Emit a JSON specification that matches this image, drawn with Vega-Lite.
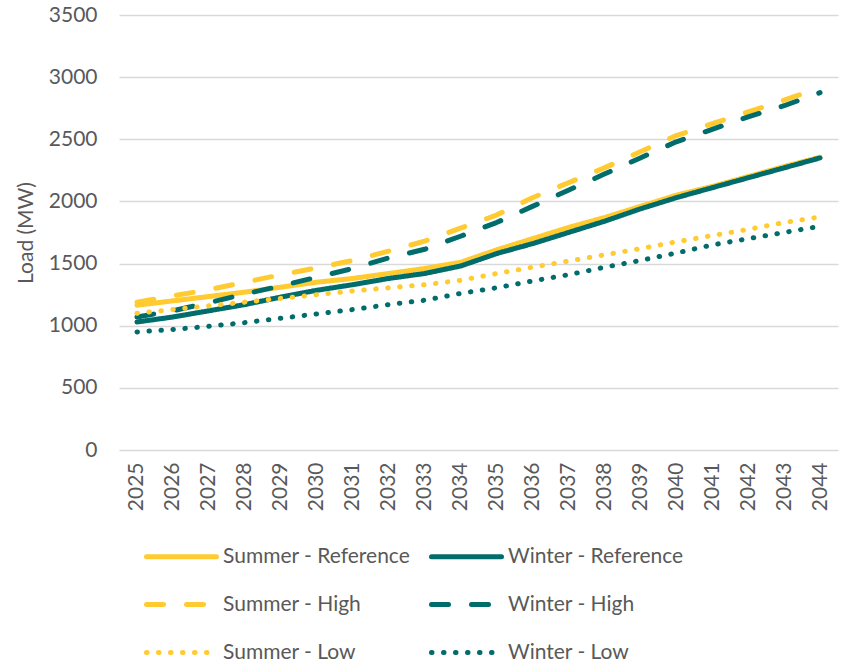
{
  "$schema": "https://vega.github.io/schema/vega-lite/v6.json",
  "width": 719,
  "height": 435,
  "padding": {"left": 119, "top": 15, "right": 4, "bottom": 211},
  "autosize": {"type": "none"},
  "background": "white",
  "config": {
    "view": {"stroke": null},
    "font": "Lato",
    "axis": {"labelFont": "Lato", "titleFont": "Lato", "labelColor": "#595959", "titleColor": "#595959", "labelFontSize": 21, "titleFontSize": 21, "titleFontWeight": "normal"},
    "legend": {"labelFont": "Lato", "labelColor": "#595959", "labelFontSize": 21}
  },
  "data": {
    "values": [
      {"year": "2025", "series": "Summer - Reference", "load": 1165},
      {"year": "2026", "series": "Summer - Reference", "load": 1200},
      {"year": "2027", "series": "Summer - Reference", "load": 1235},
      {"year": "2028", "series": "Summer - Reference", "load": 1270},
      {"year": "2029", "series": "Summer - Reference", "load": 1310},
      {"year": "2030", "series": "Summer - Reference", "load": 1350},
      {"year": "2031", "series": "Summer - Reference", "load": 1380},
      {"year": "2032", "series": "Summer - Reference", "load": 1420},
      {"year": "2033", "series": "Summer - Reference", "load": 1460},
      {"year": "2034", "series": "Summer - Reference", "load": 1510},
      {"year": "2035", "series": "Summer - Reference", "load": 1610},
      {"year": "2036", "series": "Summer - Reference", "load": 1700},
      {"year": "2037", "series": "Summer - Reference", "load": 1790},
      {"year": "2038", "series": "Summer - Reference", "load": 1870},
      {"year": "2039", "series": "Summer - Reference", "load": 1960},
      {"year": "2040", "series": "Summer - Reference", "load": 2050},
      {"year": "2041", "series": "Summer - Reference", "load": 2120},
      {"year": "2042", "series": "Summer - Reference", "load": 2200},
      {"year": "2043", "series": "Summer - Reference", "load": 2280},
      {"year": "2044", "series": "Summer - Reference", "load": 2355},
      {"year": "2025", "series": "Winter - Reference", "load": 1030},
      {"year": "2026", "series": "Winter - Reference", "load": 1070},
      {"year": "2027", "series": "Winter - Reference", "load": 1120},
      {"year": "2028", "series": "Winter - Reference", "load": 1170},
      {"year": "2029", "series": "Winter - Reference", "load": 1230},
      {"year": "2030", "series": "Winter - Reference", "load": 1285},
      {"year": "2031", "series": "Winter - Reference", "load": 1330},
      {"year": "2032", "series": "Winter - Reference", "load": 1380},
      {"year": "2033", "series": "Winter - Reference", "load": 1420},
      {"year": "2034", "series": "Winter - Reference", "load": 1480},
      {"year": "2035", "series": "Winter - Reference", "load": 1580},
      {"year": "2036", "series": "Winter - Reference", "load": 1660},
      {"year": "2037", "series": "Winter - Reference", "load": 1750},
      {"year": "2038", "series": "Winter - Reference", "load": 1840},
      {"year": "2039", "series": "Winter - Reference", "load": 1940},
      {"year": "2040", "series": "Winter - Reference", "load": 2030},
      {"year": "2041", "series": "Winter - Reference", "load": 2110},
      {"year": "2042", "series": "Winter - Reference", "load": 2190},
      {"year": "2043", "series": "Winter - Reference", "load": 2270},
      {"year": "2044", "series": "Winter - Reference", "load": 2350},
      {"year": "2025", "series": "Summer - High", "load": 1190},
      {"year": "2026", "series": "Summer - High", "load": 1240},
      {"year": "2027", "series": "Summer - High", "load": 1290},
      {"year": "2028", "series": "Summer - High", "load": 1350},
      {"year": "2029", "series": "Summer - High", "load": 1410},
      {"year": "2030", "series": "Summer - High", "load": 1465},
      {"year": "2031", "series": "Summer - High", "load": 1525},
      {"year": "2032", "series": "Summer - High", "load": 1600},
      {"year": "2033", "series": "Summer - High", "load": 1680},
      {"year": "2034", "series": "Summer - High", "load": 1785},
      {"year": "2035", "series": "Summer - High", "load": 1890},
      {"year": "2036", "series": "Summer - High", "load": 2030},
      {"year": "2037", "series": "Summer - High", "load": 2150},
      {"year": "2038", "series": "Summer - High", "load": 2270},
      {"year": "2039", "series": "Summer - High", "load": 2400},
      {"year": "2040", "series": "Summer - High", "load": 2530},
      {"year": "2041", "series": "Summer - High", "load": 2625},
      {"year": "2042", "series": "Summer - High", "load": 2720},
      {"year": "2043", "series": "Summer - High", "load": 2815},
      {"year": "2044", "series": "Summer - High", "load": 2915},
      {"year": "2025", "series": "Winter - High", "load": 1070},
      {"year": "2026", "series": "Winter - High", "load": 1120},
      {"year": "2027", "series": "Winter - High", "load": 1185},
      {"year": "2028", "series": "Winter - High", "load": 1255},
      {"year": "2029", "series": "Winter - High", "load": 1320},
      {"year": "2030", "series": "Winter - High", "load": 1390},
      {"year": "2031", "series": "Winter - High", "load": 1460},
      {"year": "2032", "series": "Winter - High", "load": 1545},
      {"year": "2033", "series": "Winter - High", "load": 1615},
      {"year": "2034", "series": "Winter - High", "load": 1720},
      {"year": "2035", "series": "Winter - High", "load": 1830},
      {"year": "2036", "series": "Winter - High", "load": 1960},
      {"year": "2037", "series": "Winter - High", "load": 2090},
      {"year": "2038", "series": "Winter - High", "load": 2220},
      {"year": "2039", "series": "Winter - High", "load": 2350},
      {"year": "2040", "series": "Winter - High", "load": 2480},
      {"year": "2041", "series": "Winter - High", "load": 2580},
      {"year": "2042", "series": "Winter - High", "load": 2680},
      {"year": "2043", "series": "Winter - High", "load": 2770},
      {"year": "2044", "series": "Winter - High", "load": 2875},
      {"year": "2025", "series": "Summer - Low", "load": 1100},
      {"year": "2026", "series": "Summer - Low", "load": 1130},
      {"year": "2027", "series": "Summer - Low", "load": 1160},
      {"year": "2028", "series": "Summer - Low", "load": 1190},
      {"year": "2029", "series": "Summer - Low", "load": 1220},
      {"year": "2030", "series": "Summer - Low", "load": 1250},
      {"year": "2031", "series": "Summer - Low", "load": 1280},
      {"year": "2032", "series": "Summer - Low", "load": 1305},
      {"year": "2033", "series": "Summer - Low", "load": 1330},
      {"year": "2034", "series": "Summer - Low", "load": 1365},
      {"year": "2035", "series": "Summer - Low", "load": 1420},
      {"year": "2036", "series": "Summer - Low", "load": 1470},
      {"year": "2037", "series": "Summer - Low", "load": 1520},
      {"year": "2038", "series": "Summer - Low", "load": 1570},
      {"year": "2039", "series": "Summer - Low", "load": 1620},
      {"year": "2040", "series": "Summer - Low", "load": 1675},
      {"year": "2041", "series": "Summer - Low", "load": 1725},
      {"year": "2042", "series": "Summer - Low", "load": 1775},
      {"year": "2043", "series": "Summer - Low", "load": 1830},
      {"year": "2044", "series": "Summer - Low", "load": 1875},
      {"year": "2025", "series": "Winter - Low", "load": 950},
      {"year": "2026", "series": "Winter - Low", "load": 970},
      {"year": "2027", "series": "Winter - Low", "load": 995},
      {"year": "2028", "series": "Winter - Low", "load": 1025},
      {"year": "2029", "series": "Winter - Low", "load": 1060},
      {"year": "2030", "series": "Winter - Low", "load": 1095},
      {"year": "2031", "series": "Winter - Low", "load": 1130},
      {"year": "2032", "series": "Winter - Low", "load": 1170},
      {"year": "2033", "series": "Winter - Low", "load": 1205},
      {"year": "2034", "series": "Winter - Low", "load": 1260},
      {"year": "2035", "series": "Winter - Low", "load": 1305},
      {"year": "2036", "series": "Winter - Low", "load": 1360},
      {"year": "2037", "series": "Winter - Low", "load": 1410},
      {"year": "2038", "series": "Winter - Low", "load": 1470},
      {"year": "2039", "series": "Winter - Low", "load": 1525},
      {"year": "2040", "series": "Winter - Low", "load": 1585},
      {"year": "2041", "series": "Winter - Low", "load": 1650},
      {"year": "2042", "series": "Winter - Low", "load": 1700},
      {"year": "2043", "series": "Winter - Low", "load": 1750},
      {"year": "2044", "series": "Winter - Low", "load": 1800}
    ]
  },
  "mark": {"type": "line", "strokeWidth": 5, "strokeCap": "round", "strokeJoin": "round"},
  "encoding": {
    "x": {
      "field": "year", "type": "ordinal",
      "scale": {"paddingInner": 1, "paddingOuter": 0.5},
      "axis": {"title": null, "labelAngle": -90, "labelAlign": "right", "labelBaseline": "middle", "labelPadding": 12, "labelFontSize": 21, "labelFont": "Lato", "ticks": false, "domain": false, "grid": false}
    },
    "y": {
      "field": "load", "type": "quantitative",
      "scale": {"domain": [0, 3500]},
      "axis": {"title": "Load (MW)", "format": "d", "values": [0, 500, 1000, 1500, 2000, 2500, 3000, 3500], "grid": true, "gridColor": "#D9D9D9", "gridWidth": 1.5, "ticks": false, "domain": false, "labelPadding": 22, "titlePadding": 12, "labelFontSize": 21, "titleFontSize": 21, "labelFont": "Lato", "titleFont": "Lato"}
    },
    "color": {
      "field": "series", "type": "nominal",
      "sort": ["Summer - Reference", "Winter - Reference", "Summer - High", "Winter - High", "Summer - Low", "Winter - Low"],
      "scale": {
        "domain": ["Summer - Reference", "Winter - Reference", "Summer - High", "Winter - High", "Summer - Low", "Winter - Low"],
        "range": ["#FFCB31", "#006C6B", "#FFCB31", "#006C6B", "#FFCB31", "#006C6B"]
      },
      "legend": {
        "title": null, "orient": "none", "legendX": 25, "legendY": 504, "columns": 2, "direction": "horizontal",
        "symbolType": "stroke", "symbolSize": 4900, "symbolStrokeWidth": 5, "labelOffset": 4, "columnPadding": 10, "rowPadding": 0,
        "labelLimit": 0, "labelFontSize": 21, "labelFont": "Lato",
        "encode": {"symbols": {"update": {"strokeCap": {"value": "round"}}}}
      }
    },
    "strokeDash": {
      "field": "series", "type": "nominal",
      "sort": ["Summer - Reference", "Winter - Reference", "Summer - High", "Winter - High", "Summer - Low", "Winter - Low"],
      "scale": {
        "domain": ["Summer - Reference", "Winter - Reference", "Summer - High", "Winter - High", "Summer - Low", "Winter - Low"],
        "range": [[1, 0], [1, 0], [17, 23], [17, 23], [0.5, 11.5], [0.5, 11.5]]
      }
    },
    "order": {"field": "load"}
  }
}
